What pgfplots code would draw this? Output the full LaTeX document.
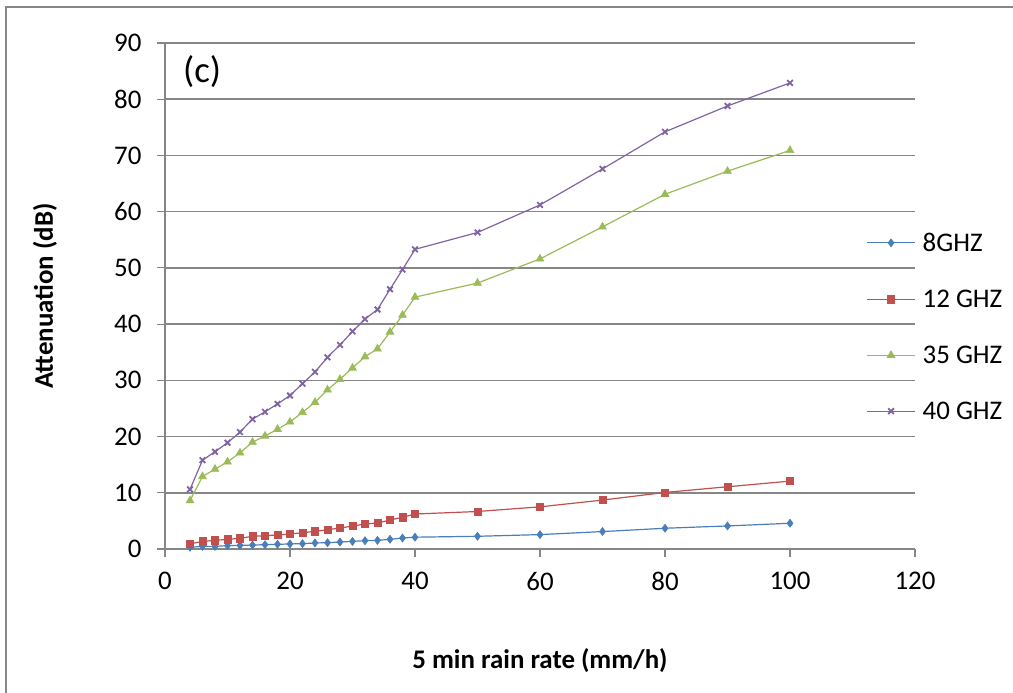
\documentclass[border=0pt]{standalone}
\usepackage{fontspec}
\setmainfont{Carlito}
\usepackage{pgfplots}
\pgfplotsset{compat=1.18}
\definecolor{s1}{RGB}{74,126,187}
\definecolor{s2}{RGB}{192,80,77}
\definecolor{s3}{RGB}{155,187,89}
\definecolor{s4}{RGB}{128,100,162}
\definecolor{gridc}{RGB}{134,134,134}
\begin{document}
\begin{tikzpicture}[x=1bp,y=1bp]
\useasboundingbox (-165,-144) rectangle (848,549);
\draw[gridc, line width=1.5bp] (-159,-144) -- (-159,542) -- (848,542);
\begin{axis}[
  at={(0,0)}, anchor=south west,
  scale only axis, width=750bp, height=506bp,
  xmin=0, xmax=120, ymin=0, ymax=90,
  xtick={0,20,...,120}, ytick={0,10,...,90},
  axis lines=left, axis line style={-, gridc, line width=1.5bp},
  ymajorgrids, grid style={gridc, line width=1.5bp},
  tick align=outside, major tick length=8bp,
  tick style={gridc, line width=1.2bp},
  /pgf/number format/assume math mode=true,
  tick label style={font=\fontsize{27}{32}\selectfont},
  xticklabel style={yshift=-12bp},
  yticklabel style={xshift=-12bp},
  xlabel={\textbf{5 min rain rate (mm/h)}},
  ylabel={\textbf{Attenuation (dB)}},
  label style={font=\fontsize{27}{32}\selectfont},
  xlabel style={at={(axis description cs:0.5,-0.2213)}, anchor=center},
  ylabel style={at={(axis description cs:-0.16,0.5)}, anchor=center},
  clip=false,
  legend style={at={(axis description cs:0.935,0.625)}, anchor=north west,
    draw=none, fill=none, font=\fontsize{27}{32}\selectfont,
    row sep=37bp, inner sep=0pt, nodes={inner xsep=7bp, inner ysep=0pt}, legend cell align=left},
  legend image code/.code={\draw[mark repeat=2,mark phase=2] plot coordinates {(0bp,0bp) (24bp,0bp) (48bp,0bp)};},
  every axis plot/.append style={line width=1.2bp},
]
\addplot[s1, mark=diamond*, mark size=4bp, mark options={solid, line width=0.6bp}] coordinates {
(4,0.3)(6,0.47)(8,0.47)(10,0.6)(12,0.65)(14,0.7)(16,0.77)(18,0.83)(20,0.9)(22,0.95)
(24,1.07)(26,1.12)(28,1.24)(30,1.36)(32,1.48)(34,1.54)(36,1.72)(38,1.95)(40,2.1)
(50,2.26)(60,2.56)(70,3.1)(80,3.69)(90,4.1)(100,4.58)};
\addlegendentry{8GHZ}
\addplot[s2, mark=square*, mark size=3.6bp, mark options={solid, line width=0.6bp}] coordinates {
(4,0.9)(6,1.36)(8,1.54)(10,1.72)(12,1.9)(14,2.25)(16,2.37)(18,2.49)(20,2.66)(22,2.9)
(24,3.14)(26,3.43)(28,3.73)(30,4.08)(32,4.44)(34,4.62)(36,5.15)(38,5.65)(40,6.22)
(50,6.67)(60,7.5)(70,8.7)(80,10.06)(90,11.07)(100,12.08)};
\addlegendentry{12 GHZ}
\addplot[s3, mark=triangle*, mark size=4.5bp, mark options={solid, line width=0.6bp}] coordinates {
(4,8.6)(6,12.9)(8,14.2)(10,15.5)(12,17.1)(14,19.0)(16,20.1)(18,21.3)(20,22.6)(22,24.3)
(24,26.1)(26,28.3)(28,30.2)(30,32.2)(32,34.2)(34,35.6)(36,38.6)(38,41.6)(40,44.8)
(50,47.3)(60,51.6)(70,57.3)(80,63.1)(90,67.2)(100,70.9)};
\addlegendentry{35 GHZ}
\addplot[s4, mark=x, mark size=4bp, mark options={solid, line width=1.8bp}] coordinates {
(4,10.6)(6,15.8)(8,17.3)(10,18.9)(12,20.8)(14,23.1)(16,24.4)(18,25.8)(20,27.3)(22,29.4)
(24,31.5)(26,34.1)(28,36.3)(30,38.7)(32,40.9)(34,42.6)(36,46.2)(38,49.7)(40,53.3)
(50,56.3)(60,61.2)(70,67.6)(80,74.2)(90,78.8)(100,82.9)};
\addlegendentry{40 GHZ}
\node[anchor=west, font=\fontsize{37}{44}\selectfont, inner sep=0pt] at (axis description cs:0.024,0.943) {(c)};
\end{axis}
\end{tikzpicture}
\end{document}
